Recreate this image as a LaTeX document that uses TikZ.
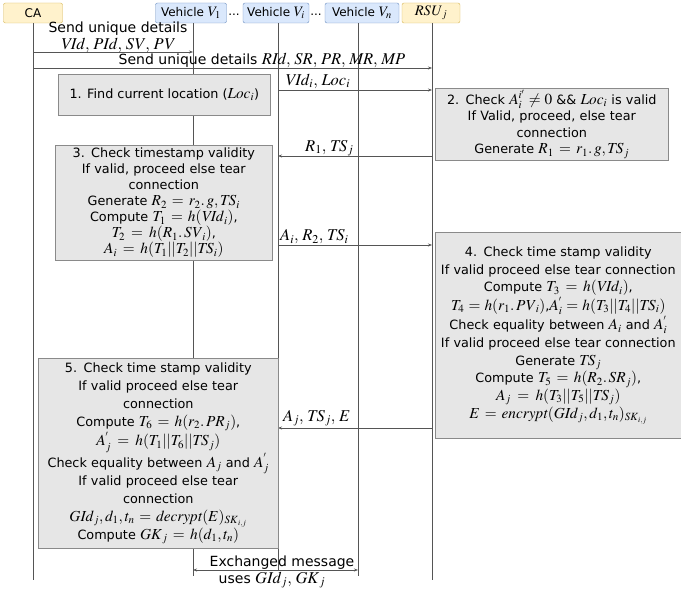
\documentclass[tikz,border=0pt]{standalone}
\usepackage{mathptmx}
\usepackage[no-math]{fontspec}
\setmainfont{DejaVu Sans}
\usetikzlibrary{arrows.meta}
\DeclareMathSizes{12}{14.5}{10.5}{8}
\DeclareMathSizes{12.8}{15.3}{11}{8}
\DeclareMathSizes{14}{16.5}{12}{9}
\definecolor{orfill}{HTML}{FFF2CC}
\definecolor{ordraw}{HTML}{D6B656}
\definecolor{blfill}{HTML}{DAE8FC}
\definecolor{bldraw}{HTML}{6C8EBF}
\definecolor{gyfill}{HTML}{E6E6E6}
\definecolor{gydraw}{HTML}{8A8A8A}
\definecolor{ln}{HTML}{555555}
\tikzset{
  actor/.style={draw=#1draw, fill=#1fill, rounded corners=2pt, minimum height=20pt, inner sep=0pt, font=\fontsize{12}{14}\selectfont},
  life/.style={draw=ln, line width=0.6pt},
  msg/.style={draw=ln, line width=0.6pt, -{Stealth[length=4pt,width=3pt]}},
  dmsg/.style={draw=ln, line width=0.6pt, {Stealth[length=4pt,width=3pt]}-{Stealth[length=4pt,width=3pt]}},
  lbl/.style={font=\fontsize{14}{16}\selectfont, inner sep=1pt},
  stepbox/.style={draw=gydraw, fill=gyfill, line width=0.6pt, anchor=north west, align=center, inner sep=2pt},
}
\begin{document}
\begin{tikzpicture}[x=1pt,y=-1pt]
\useasboundingbox (0,0) rectangle (681,593);
% actors
\node[actor=or, minimum width=59pt] (ca) at (33,13) {CA};
\node[actor=bl, minimum width=71pt] (v1) at (191,13) {Vehicle $V_1$};
\node[actor=bl, minimum width=66pt] (vi) at (276,13) {Vehicle $V_i$};
\node[actor=bl, minimum width=74pt] (vn) at (362,13) {Vehicle $V_n$};
\node[actor=or, minimum width=58pt] (rsu) at (431,13) {$\mathit{RSU}_j$};
\node[actor=or, draw=none, fill=none] (d1) at (234,15) {...};
\node[actor=or, draw=none, fill=none] (d2) at (316,15) {...};
% lifeline ends
\coordinate (cae) at (33,580);
\coordinate (v1e) at (193,576);
\coordinate (vie) at (278,570);
\coordinate (vne) at (358,576);
\coordinate (rsue) at (432,580);
\draw[life] (ca.south -| cae) -- (cae);
\draw[life] (v1.south -| v1e) -- (v1e);
\draw[life] (vi.south -| vie) -- (vie);
\draw[life] (vn.south -| vne) -- (vne);
\draw[life] (rsu.south -| rsue) -- (rsue);
% message anchor coordinates
\coordinate (m1) at (0,52);
\coordinate (m2) at (0,68);
\coordinate (m3) at (0,90);
\coordinate (m4) at (0,156);
\coordinate (m5) at (0,245);
\coordinate (m6) at (0,428);
\coordinate (m7) at (0,570);
\draw[msg] (m1 -| cae) -- (m1 -| v1e);
\node[lbl] (l1a) at (118,29) {Send unique details};
\node[lbl] (l1b) at (118,45) {$\mathit{VId},\, \mathit{PId},\, \mathit{SV},\, \mathit{PV}$};
\draw[msg] (m2 -| cae) -- (m2 -| rsue);
\node[lbl] (l2) at (262,60) {Send unique details $\mathit{RId},\, \mathit{SR},\, \mathit{PR},\, \mathit{MR},\, \mathit{MP}$};
\draw[msg] (m3 -| vie) -- (m3 -| rsue);
\node[lbl, anchor=west] (l3) at (284,81) {$\mathit{VId}_i,\, \mathit{Loc}_i$};
\draw[msg] (m4 -| rsue) -- (m4 -| vie);
\node[lbl, anchor=west] (l4) at (304,148) {$R_1,\, \mathit{TS}_j$};
\draw[msg] (m5 -| vie) -- (m5 -| rsue);
\node[lbl, anchor=west] (l5) at (279,237) {$A_i,\, R_2,\, \mathit{TS}_i$};
\draw[msg] (m6 -| rsue) -- (m6 -| vie);
\node[lbl, anchor=west] (l6) at (282,418) {$A_j,\, \mathit{TS}_j,\, E$};
% boxes
\node[stepbox, minimum width=212pt, minimum height=41pt, font=\fontsize{12.8}{16}\selectfont] (b1) at (58,74) {1. Find current location ($\mathit{Loc}_i$)};
\node[stepbox, minimum width=233pt, minimum height=72pt, text width=229pt, font=\fontsize{12.8}{16.5}\selectfont] (b2) at (435,88) {2. Check $A_i^{i'} \neq 0$ \&\& $\mathit{Loc}_i$ is valid\\If Valid, proceed, else tear\\connection\\Generate $R_1 = r_1.\,g, \mathit{TS}_j$};
\node[stepbox, minimum width=217pt, minimum height=115pt, text width=213pt, inner sep=1pt, font=\fontsize{12.8}{16}\selectfont] (b3) at (55,145) {3. Check timestamp validity\\If valid, proceed else tear\\connection\\Generate $R_2 = r_2.\,g, \mathit{TS}_i$\\Compute $T_1 = h(\mathit{VId}_i)$,\\$T_2 = h(R_1.\,\mathit{SV}_i)$,\\$A_i = h(T_1||T_2||\mathit{TS}_i)$};
\node[stepbox, minimum width=246pt, minimum height=206pt, text width=242pt, font=\fontsize{12.8}{17.7}\selectfont] (b4) at (435,232) {4. Check time stamp validity\\If valid proceed else tear connection\\Compute $T_3 = h(\mathit{VId}_i)$,\\$T_4 = h(r_1.\,\mathit{PV}_i)$,$A_i^{'} = h(T_3||T_4||\mathit{TS}_i)$\\Check equality between $A_i$ and $A_i^{'}$\\If valid proceed else tear connection\\Generate $\mathit{TS}_j$\\Compute $T_5 = h(R_2.\,\mathit{SR}_j)$,\\$A_j = h(T_3||T_5||\mathit{TS}_j)$\\$E = \mathit{encrypt}(\mathit{GId}_j, d_1, t_n)_{\mathit{SK}_{i,j}}$};
\node[stepbox, minimum width=240pt, minimum height=190pt, text width=236pt, font=\fontsize{12.8}{18}\selectfont] (b5) at (38,358) {5. Check time stamp validity\\If valid proceed else tear\\connection\\Compute $T_6 = h(r_2.\,\mathit{PR}_j)$,\\$A_j^{'} = h(T_1||T_6||\mathit{TS}_j)$\\Check equality between $A_j$ and $A_j^{'}$\\If valid proceed else tear\\connection\\$\mathit{GId}_j, d_1, t_n = \mathit{decrypt}(E)_{\mathit{SK}_{i,j}}$\\Compute $\mathit{GK}_j = h(d_1, t_n)$};
% bottom exchange
\draw[dmsg] (m7 -| v1e) -- (m7 -| vne);
\node[lbl] (l7a) at (282,563) {Exchanged message};
\node[lbl] (l7b) at (272,580) {uses $\mathit{GId}_j,\, \mathit{GK}_j$};
\end{tikzpicture}
\end{document}
